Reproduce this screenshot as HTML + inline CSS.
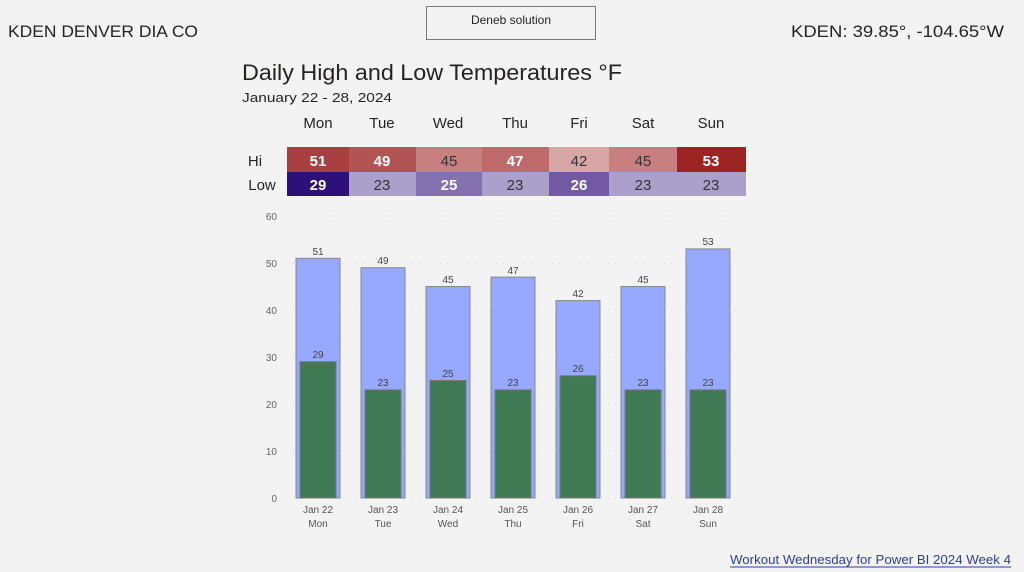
<!DOCTYPE html>
<html><head><meta charset="utf-8"><style>
html,body{margin:0;padding:0;background:#f3f3f3;width:1024px;height:572px;overflow:hidden;}
svg{display:block;}
svg text{font-family:"Liberation Sans",sans-serif;}
</style></head><body>
<svg width="1024" height="572" viewBox="0 0 1024 572" xmlns="http://www.w3.org/2000/svg">
<rect width="1024" height="572" fill="#f3f3f3"/>
<text x="8" y="37" font-size="17" fill="#252423" textLength="190" lengthAdjust="spacingAndGlyphs">KDEN DENVER DIA CO</text>
<rect x="426.5" y="6.5" width="169" height="33" fill="#f3f3f3" stroke="#7a7a7a"/>
<text x="511" y="24" font-size="12" fill="#252423" text-anchor="middle">Deneb solution</text>
<text x="1004" y="37" font-size="17" fill="#252423" text-anchor="end" textLength="213" lengthAdjust="spacingAndGlyphs">KDEN: 39.85°, -104.65°W</text>
<text x="242" y="80" font-size="22" fill="#252423" textLength="380" lengthAdjust="spacingAndGlyphs">Daily High and Low Temperatures °F</text>
<text x="242" y="102" font-size="13" fill="#252423" textLength="150" lengthAdjust="spacingAndGlyphs">January 22 - 28, 2024</text>
<g font-size="15" fill="#252423" text-anchor="middle">
<text x="318" y="128">Mon</text><text x="382" y="128">Tue</text><text x="448" y="128">Wed</text><text x="515" y="128">Thu</text><text x="579" y="128">Fri</text><text x="643" y="128">Sat</text><text x="711" y="128">Sun</text>
<text x="255" y="166">Hi</text><text x="262" y="190">Low</text>
</g>
<g>
<rect x="287" y="147" width="62" height="25" fill="#a83f3f"/>
<rect x="349" y="147" width="67" height="25" fill="#b35454"/>
<rect x="416" y="147" width="66" height="25" fill="#c87f7f"/>
<rect x="482" y="147" width="67" height="25" fill="#be6a6a"/>
<rect x="549" y="147" width="60" height="25" fill="#d9a6a6"/>
<rect x="609" y="147" width="68" height="25" fill="#c87f7f"/>
<rect x="677" y="147" width="69" height="25" fill="#9e2424"/>
<rect x="287" y="172" width="62" height="24" fill="#2f107a"/>
<rect x="349" y="172" width="67" height="24" fill="#ab9fcc"/>
<rect x="416" y="172" width="66" height="24" fill="#8570b0"/>
<rect x="482" y="172" width="67" height="24" fill="#ab9fcc"/>
<rect x="549" y="172" width="60" height="24" fill="#7359a3"/>
<rect x="609" y="172" width="68" height="24" fill="#ab9fcc"/>
<rect x="677" y="172" width="69" height="24" fill="#ab9fcc"/>
</g>
<g font-size="15" text-anchor="middle">
<text x="318" y="166" fill="#fff" font-weight="bold">51</text>
<text x="382" y="166" fill="#fff" font-weight="bold">49</text>
<text x="449" y="166" fill="#333">45</text>
<text x="515" y="166" fill="#fff" font-weight="bold">47</text>
<text x="579" y="166" fill="#333">42</text>
<text x="643" y="166" fill="#333">45</text>
<text x="711" y="166" fill="#fff" font-weight="bold">53</text>
<text x="318" y="190" fill="#fff" font-weight="bold">29</text>
<text x="382" y="190" fill="#333">23</text>
<text x="449" y="190" fill="#fff" font-weight="bold">25</text>
<text x="515" y="190" fill="#333">23</text>
<text x="579" y="190" fill="#fff" font-weight="bold">26</text>
<text x="643" y="190" fill="#333">23</text>
<text x="711" y="190" fill="#333">23</text>
</g>
<g stroke="#d0d0d0" stroke-dasharray="1,6">
<line x1="286" y1="216" x2="740" y2="216"/><line x1="286" y1="263" x2="740" y2="263"/>
<line x1="286" y1="310" x2="740" y2="310"/><line x1="286" y1="357" x2="740" y2="357"/>
<line x1="286" y1="404" x2="740" y2="404"/><line x1="286" y1="451" x2="740" y2="451"/>
<line x1="286" y1="498" x2="740" y2="498"/>
</g>
<g font-size="10" fill="#666" text-anchor="end">
<text x="277" y="220">60</text><text x="277" y="267">50</text><text x="277" y="314">40</text>
<text x="277" y="361">30</text><text x="277" y="408">20</text><text x="277" y="455">10</text><text x="277" y="502">0</text>
</g>
<g fill="#96a8ff" stroke="#888">
<rect x="296" y="258.3" width="44" height="239.7"/>
<rect x="361" y="267.7" width="44" height="230.3"/>
<rect x="426" y="286.5" width="44" height="211.5"/>
<rect x="491" y="277.1" width="44" height="220.9"/>
<rect x="556" y="300.6" width="44" height="197.4"/>
<rect x="621" y="286.5" width="44" height="211.5"/>
<rect x="686" y="248.9" width="44" height="249.1"/>
</g>
<g fill="#407a55" stroke="#777">
<rect x="300" y="361.7" width="36" height="136.3"/>
<rect x="365" y="389.9" width="36" height="108.1"/>
<rect x="430" y="380.5" width="36" height="117.5"/>
<rect x="495" y="389.9" width="36" height="108.1"/>
<rect x="560" y="375.8" width="36" height="122.2"/>
<rect x="625" y="389.9" width="36" height="108.1"/>
<rect x="690" y="389.9" width="36" height="108.1"/>
</g>
<g font-size="10" fill="#444" text-anchor="middle">
<text x="318" y="255">51</text><text x="383" y="264">49</text><text x="448" y="283">45</text><text x="513" y="274">47</text><text x="578" y="297">42</text><text x="643" y="283">45</text><text x="708" y="245">53</text>
<text x="318" y="358">29</text><text x="383" y="386">23</text><text x="448" y="377">25</text><text x="513" y="386">23</text><text x="578" y="372">26</text><text x="643" y="386">23</text><text x="708" y="386">23</text>
</g>
<g font-size="10" fill="#555" text-anchor="middle">
<text x="318" y="513">Jan 22</text><text x="383" y="513">Jan 23</text><text x="448" y="513">Jan 24</text><text x="513" y="513">Jan 25</text><text x="578" y="513">Jan 26</text><text x="643" y="513">Jan 27</text><text x="708" y="513">Jan 28</text>
<text x="318" y="527">Mon</text><text x="383" y="527">Tue</text><text x="448" y="527">Wed</text><text x="513" y="527">Thu</text><text x="578" y="527">Fri</text><text x="643" y="527">Sat</text><text x="708" y="527">Sun</text>
</g>
<text x="1011" y="564" font-size="13" fill="#2c3e9e" text-anchor="end" textLength="281" lengthAdjust="spacingAndGlyphs">Workout Wednesday for Power BI 2024 Week 4</text>
<line x1="730" y1="567" x2="1011" y2="567" stroke="#2c3e9e" stroke-width="1"/>
</svg>
</body></html>
